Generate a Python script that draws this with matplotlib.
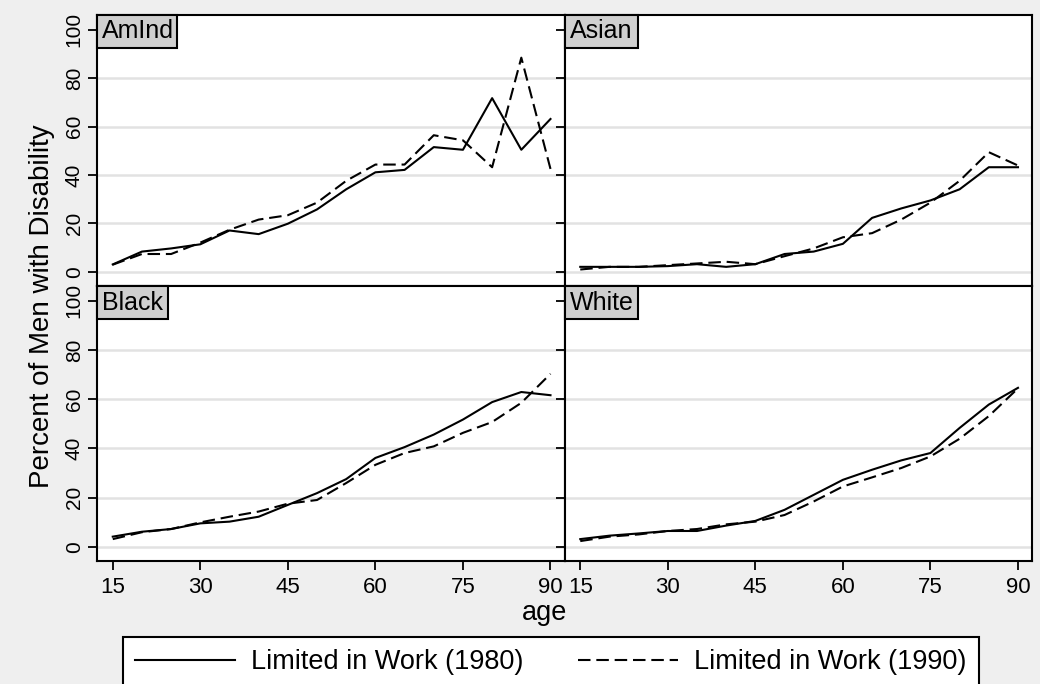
import numpy as np
import matplotlib
matplotlib.use("Agg")
import matplotlib.pyplot as plt
from matplotlib.patches import Rectangle
from matplotlib.transforms import Bbox, TransformedBbox
from matplotlib.lines import Line2D

# percent of men limited in work, by 5-year age group
ages = [15, 20, 25, 30, 35, 40, 45, 50, 55, 60, 65, 70, 75, 80, 85, 90]

amind_1980 = [3.1, 8.4, 9.7, 11.4, 17.1, 15.6, 19.9, 25.8, 34.1, 41.1, 42.1, 51.5, 50.4, 71.7, 50.4, 63.1]
amind_1990 = [3.0, 7.4, 7.4, 12.1, 17.4, 21.6, 23.4, 28.6, 37.6, 44.3, 44.3, 56.4, 54.3, 43.2, 88.4, 42.5]
asian_1980 = [2.1, 2.1, 2.1, 2.4, 3.2, 2.1, 3.2, 7.4, 8.4, 11.6, 22.3, 26.2, 29.5, 34.1, 43.2, 43.2]
asian_1990 = [1.0, 2.1, 2.1, 2.8, 3.5, 4.2, 3.2, 6.5, 9.7, 14.3, 16.0, 21.6, 28.6, 37.6, 49.4, 43.9]
black_1980 = [4.1, 6.1, 7.2, 9.5, 10.2, 12.2, 17.0, 21.8, 27.5, 36.1, 40.5, 45.6, 51.7, 58.8, 62.9, 61.6]
black_1990 = [3.1, 5.9, 7.2, 9.9, 12.2, 14.3, 17.5, 19.0, 25.9, 33.3, 38.1, 40.8, 46.3, 50.7, 58.5, 70.3]
white_1980 = [3.1, 4.5, 5.4, 6.4, 6.4, 8.6, 10.5, 15.0, 21.1, 27.2, 31.3, 35.1, 38.1, 48.3, 57.8, 64.6]
white_1990 = [2.3, 4.1, 5.0, 6.4, 7.2, 9.1, 10.2, 12.9, 18.4, 24.5, 28.2, 32.0, 36.7, 43.9, 53.1, 64.4]

groups = ["AmInd", "Asian", "Black", "White"]
series_1980 = [amind_1980, asian_1980, black_1980, white_1980]
series_1990 = [amind_1990, asian_1990, black_1990, white_1990]
legend_labels = ["Limited in Work (1980)", "Limited in Work (1990)"]
xticks = [15, 30, 45, 60, 75, 90]
yticks = [0, 20, 40, 60, 80, 100]

BG = "#efefef"
GRID = "#e2e2e2"
TAG = "#cfcfcf"
FONT = "Liberation Sans"

plt.rcParams.update({
    "font.family": FONT,
    "axes.linewidth": 1.5,
    "xtick.major.width": 1.3,
    "ytick.major.width": 1.3,
    "xtick.major.size": 6.5,
    "ytick.major.size": 6.5,
})

W, H = 1040, 684
fig = plt.figure(figsize=(W / 100, H / 100), dpi=100, facecolor=BG)


def px_axes(x0, y0, x1, y1):
    """Axes placed by pixel box (top-left origin)."""
    return fig.add_axes([x0 / W, 1 - y1 / H, (x1 - x0) / W, (y1 - y0) / H])


XL, XM, XR = 97, 564.5, 1032
YT, YM, YB = 15, 286, 561
boxes = [(XL, YT, XM, YM), (XM, YT, XR, YM), (XL, YM, XM, YB), (XM, YM, XR, YB)]
tag_w = [80, 73.5, 70.5, 73.5]   # label box widths, px

LW = 1.5
dash = (0, (6.0, 2.8))
for i, (name, s80, s90) in enumerate(zip(groups, series_1980, series_1990)):
    x0, y0, x1, y1 = boxes[i]
    ax = px_axes(x0, y0, x1, y1)
    ax.set_facecolor("white")
    ax.set_xlim(12.3, 92.4)
    ax.set_ylim(-5.8, 106)
    ax.set_yticks(yticks)
    ax.set_xticks(xticks)
    # grid at every tick but the top one
    for v in yticks[:-1]:
        ax.axhline(v, color=GRID, lw=1.8, zorder=0)
    ax.plot(ages, s80, color="black", lw=LW, zorder=3)
    ax.plot(ages, s90, color="black", lw=LW, ls=dash, zorder=3)

    left, bottom = i % 2 == 0, i >= 2
    ax.tick_params(axis="y", labelleft=left, labelsize=15, pad=3)
    for lab in ax.get_yticklabels():
        lab.set_rotation(90)
        lab.set_va("center")
    if bottom:
        ax.tick_params(axis="x", labelsize=16, pad=5)
    else:
        ax.tick_params(axis="x", bottom=False, labelbottom=False)

    # grey tag in the top-left corner, text cut off at the tag edge
    tw = tag_w[i] / (x1 - x0)
    th = 33 / (y1 - y0)
    ax.add_patch(Rectangle((0, 1 - th), tw, th, transform=ax.transAxes,
                           facecolor=TAG, edgecolor="black", lw=1.5,
                           zorder=5, clip_on=False))
    t = ax.text(5 / (x1 - x0), 1 - th / 2, name, transform=ax.transAxes,
                fontsize=18, ha="left", va="center", zorder=6)
    t.set_clip_box(TransformedBbox(Bbox([[0, 1 - th], [tw, 1]]), ax.transAxes))
    t.set_clip_on(True)

fig.text(42 / W, 1 - 306 / H, "Percent of Men with Disability", rotation=90,
         fontsize=20, ha="center", va="center")
fig.text(545 / W, 1 - 613 / H, "age", fontsize=19.5, ha="center", va="center")

handles = [Line2D([], [], color="black", lw=LW),
           Line2D([], [], color="black", lw=LW, ls=dash)]
leg = fig.legend(handles, legend_labels, loc="upper left",
                 bbox_to_anchor=(122.5 / W, 1 - 637 / H), ncol=2,
                 fontsize=19.5, frameon=True, fancybox=False, framealpha=1,
                 edgecolor="black", handlelength=3.7, handletextpad=0.6,
                 columnspacing=2.0, borderpad=0.45, borderaxespad=0)
leg.get_frame().set_linewidth(1.5)

fig.savefig("out.png", dpi=100, facecolor=BG)
